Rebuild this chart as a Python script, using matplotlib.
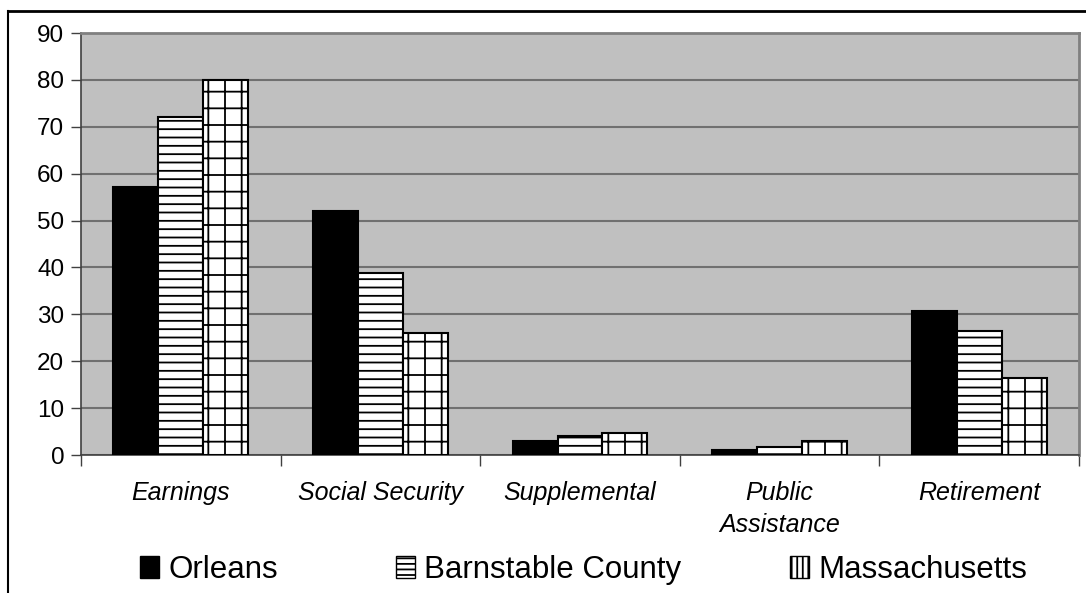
import matplotlib
matplotlib.use("Agg")
import matplotlib.pyplot as plt
from matplotlib.patches import Patch
from matplotlib.lines import Line2D
import numpy as np

categories = ["Earnings", "Social Security", "Supplemental", "Public\nAssistance", "Retirement"]
series_names = ["Orleans", "Barnstable County", "Massachusetts"]
orleans = [57.2, 52.0, 3.0, 1.0, 30.7]
barnstable = [72.0, 38.8, 4.0, 1.8, 26.5]
massachusetts = [80.0, 26.0, 4.7, 3.0, 16.5]
yticks = [0, 10, 20, 30, 40, 50, 60, 70, 80, 90]

plt.rcParams['font.family'] = ['Liberation Sans', 'DejaVu Sans']
plt.rcParams['hatch.linewidth'] = 1.3

fig = plt.figure(figsize=(10.86, 5.93), dpi=100)
ax = fig.add_axes([81/1086, 1-455/593, (1079-81)/1086, (455-33)/593])
ax.set_facecolor('#C0C0C0')

x = np.arange(len(categories))
w = 0.225
styles = [dict(facecolor='black', hatch=None, lhatch=None),
          dict(facecolor='white', hatch='--', lhatch='---'),
          dict(facecolor='white', hatch='+', lhatch='|||')]
for i, (vals, st) in enumerate(zip([orleans, barnstable, massachusetts], styles)):
    ax.bar(x + (i - 1) * w, vals, width=w, facecolor=st['facecolor'], hatch=st['hatch'],
           edgecolor='black', linewidth=1.5, zorder=3)

ax.set_xlim(-0.5, len(categories) - 0.5)
ax.set_ylim(0, 90)
ax.set_yticks(yticks)
ax.tick_params(axis='y', labelsize=17.5, length=7, width=1, color='#404040', pad=5)
ax.yaxis.grid(True, color='#707070', linewidth=1.5, zorder=0)
ax.set_axisbelow(True)

ax.set_xticks(x)
ax.set_xticklabels(categories, fontsize=18, fontstyle='italic', linespacing=1.4)
ax.tick_params(axis='x', which='major', length=0, pad=19)
ax.set_xticks(np.arange(-0.5, len(categories)), minor=True)
ax.tick_params(axis='x', which='minor', length=8, width=1, color='#404040')

for s in ['top', 'right']:
    ax.spines[s].set_color('#808080')
    ax.spines[s].set_linewidth(2)
for s in ['left', 'bottom']:
    ax.spines[s].set_color('#404040')
    ax.spines[s].set_linewidth(1.2)

# outer frame
fig.add_artist(Line2D([8/1086, 8/1086], [1-11/593, 0], transform=fig.transFigure,
                      color='black', linewidth=1.5))
fig.add_artist(Line2D([8/1086, 1.0], [1-11/593, 1-11/593], transform=fig.transFigure,
                      color='black', linewidth=2))

# legend entries placed individually
leg_x = [140/1086, 396/1086, 790/1086]
for i, (name, st) in enumerate(zip(series_names, styles)):
    h = Patch(facecolor=st['facecolor'], hatch=st['lhatch'], edgecolor='black', linewidth=1)
    lg = fig.legend([h], [name], loc='center left', bbox_to_anchor=(leg_x[i], 1-570/593),
                    frameon=False, fontsize=22.5, handlelength=0.6, handleheight=0.7,
                    handletextpad=0.3, borderpad=0, borderaxespad=0)

fig.savefig('out.png', dpi=100)
